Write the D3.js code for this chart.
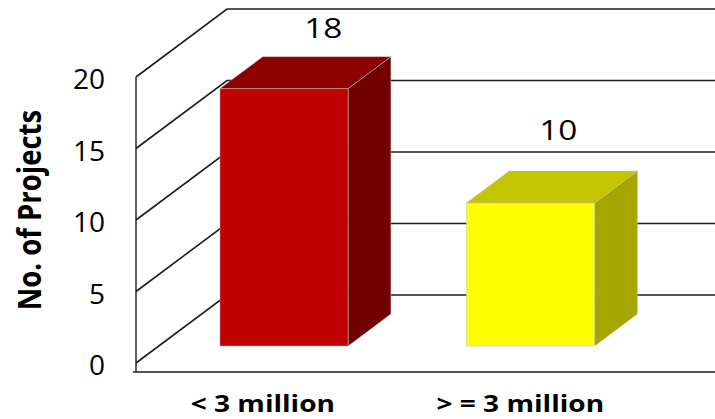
<!DOCTYPE html>
<html><head><meta charset="utf-8">
<script src="https://cdn.jsdelivr.net/npm/d3@7"></script>
<style>html,body{margin:0;padding:0;background:#fff;} svg{display:block;}</style>
</head><body>
<svg id="chart" width="715" height="419"></svg>
<script>
// ---- data ----
const categories = ["< 3 million", "> = 3 million"];
const values = [18, 10];
const yTicks = [0, 5, 10, 15, 20];
const frontColors = ["#C00000", "#FFFF00"];
const topColors = ["#8C0000", "#C4C400"];
const sideColors = ["#720000", "#A6A600"];
const yTitle = "No. of Projects";

// ---- layout ----
const svg = d3.select("#chart");
const FONT = "'Open Sans', 'Liberation Sans', sans-serif";
const y = d3.scaleLinear().domain([0, 20]).range([363, 77]);
const depth = { dx: 91, dy: -68 };
const proj = (px, py, t) => [px + depth.dx * t, py + depth.dy * t];
const x = d3.scaleBand().domain(categories).range([136, 624])
  .paddingInner(0.48).paddingOuter(0.23).align(0.54);
const bw = x.bandwidth();
const t0 = 0.25, t1 = 0.72;
const xLeft = 136, xRight = 715;
const line = d3.line();

// gridlines: diagonal side wall + back wall
const grid = svg.append("g");
yTicks.forEach(v => {
  const a = proj(xLeft, y(v), 0), b = proj(xLeft, y(v), 1);
  const c = [xRight, b[1]];
  grid.append("path").attr("d", line([a, b, c]))
    .attr("fill", "none").attr("stroke", "#1e1e1e").attr("stroke-width", 1.6);
});
// vertical axis
svg.append("line").attr("x1", xLeft).attr("x2", xLeft)
  .attr("y1", y(20)).attr("y2", y(0) + 9)
  .attr("stroke", "#1e1e1e").attr("stroke-width", 1.4);
// floor / category axis line
svg.append("line").attr("x1", xLeft - 3).attr("x2", xRight)
  .attr("y1", y(0) + 9).attr("y2", y(0) + 9)
  .attr("stroke", "#1e1e1e").attr("stroke-width", 1.6);

// y tick labels
yTicks.forEach(v => {
  svg.append("text")
    .attr("x", 105).attr("y", y(v) + 1)
    .attr("text-anchor", "end").attr("dominant-baseline", "central")
    .attr("font-family", FONT).attr("font-size", 28).attr("fill", "#000")
    .text(v);
});

// y title
svg.append("text")
  .attr("transform", "translate(29,210) scale(1.15,1) rotate(-90)")
  .attr("text-anchor", "middle").attr("dominant-baseline", "central")
  .attr("font-family", FONT).attr("font-weight", "bold").attr("font-size", 27.5)
  .attr("fill", "#000").text(yTitle);

// bars
const bars = svg.append("g");
categories.forEach((c, i) => {
  const v = values[i];
  const x0 = x(c), x1 = x0 + bw;
  const top = y(v), bot = y(0);
  const ftl = proj(x0, top, t0), ftr = proj(x1, top, t0);
  const fbr = proj(x1, bot, t0), fbl = proj(x0, bot, t0);
  const btl = proj(x0, top, t1), btr = proj(x1, top, t1), bbr = proj(x1, bot, t1);
  const edge = "rgba(190,190,190,0.7)";
  bars.append("path").attr("d", line([ftr, btr, bbr, fbr]) + "Z")
    .attr("fill", sideColors[i]).attr("stroke", edge).attr("stroke-width", 0.7);
  bars.append("path").attr("d", line([ftl, ftr, btr, btl]) + "Z")
    .attr("fill", topColors[i]).attr("stroke", edge).attr("stroke-width", 0.7);
  bars.append("path").attr("d", line([ftl, ftr, fbr, fbl]) + "Z")
    .attr("fill", frontColors[i]).attr("stroke", edge).attr("stroke-width", 0.7);
});

// value labels (above the back top edge)
const labelNudge = [[-3.5, -18.5], [-15, -31]];
categories.forEach((c, i) => {
  const p = proj(x(c) + bw / 2, y(values[i]), t1);
  svg.append("text")
    .attr("transform", `translate(${p[0] + labelNudge[i][0]},${p[1] + labelNudge[i][1]}) scale(1.19,1)`)
    .attr("text-anchor", "middle")
    .attr("font-family", FONT).attr("font-size", 28).attr("fill", "#000")
    .text(values[i]);
});

// category labels
const catNudge = [1.5, 12.5];
categories.forEach((c, i) => {
  svg.append("text")
    .attr("transform", `translate(${x(c) + bw / 2 + catNudge[i]},412) scale(1.17,1)`)
    .attr("text-anchor", "middle")
    .attr("font-family", FONT).attr("font-weight", "bold").attr("font-size", 24)
    .attr("fill", "#000").text(c);
});
</script>
</body></html>
